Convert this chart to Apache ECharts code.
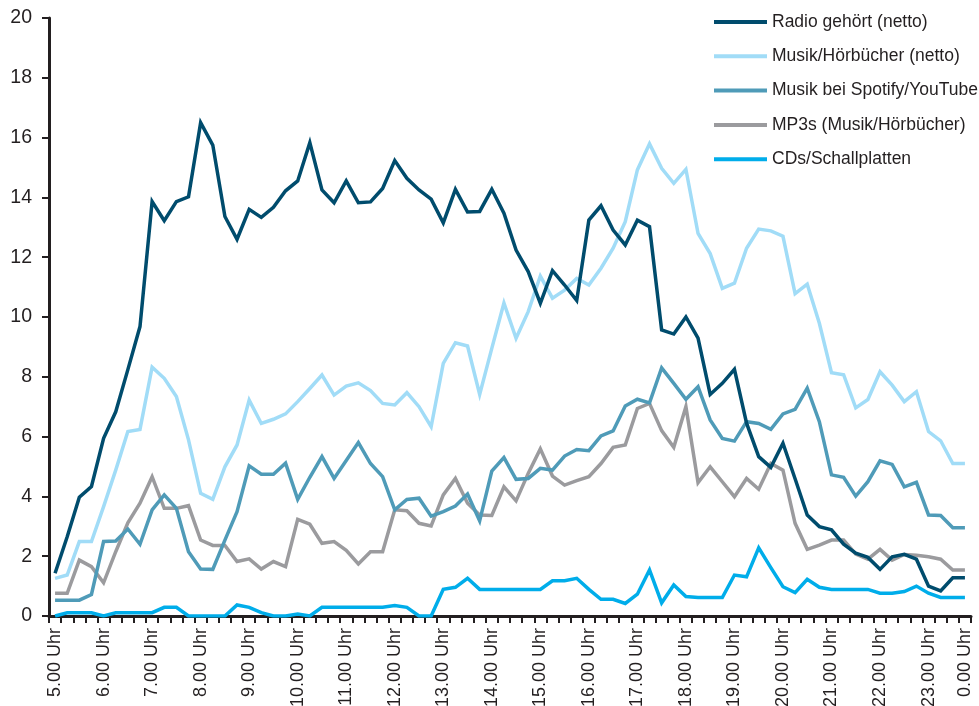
<!DOCTYPE html>
<html>
<head>
<meta charset="utf-8">
<script src="https://cdn.jsdelivr.net/npm/echarts@6/dist/echarts.min.js"></script>
<style>
  html, body { margin: 0; padding: 0; background: #ffffff; }
  #chart { width: 979px; height: 706px; }
</style>
</head>
<body>
<div id="chart"></div>
<script>
// Viertelstunden von 5.00 Uhr bis Mitternacht
const timeSlots = [
  '5.00 Uhr','5.15 Uhr','5.30 Uhr','5.45 Uhr','6.00 Uhr','6.15 Uhr','6.30 Uhr','6.45 Uhr',
  '7.00 Uhr','7.15 Uhr','7.30 Uhr','7.45 Uhr','8.00 Uhr','8.15 Uhr','8.30 Uhr','8.45 Uhr',
  '9.00 Uhr','9.15 Uhr','9.30 Uhr','9.45 Uhr','10.00 Uhr','10.15 Uhr','10.30 Uhr','10.45 Uhr',
  '11.00 Uhr','11.15 Uhr','11.30 Uhr','11.45 Uhr','12.00 Uhr','12.15 Uhr','12.30 Uhr','12.45 Uhr',
  '13.00 Uhr','13.15 Uhr','13.30 Uhr','13.45 Uhr','14.00 Uhr','14.15 Uhr','14.30 Uhr','14.45 Uhr',
  '15.00 Uhr','15.15 Uhr','15.30 Uhr','15.45 Uhr','16.00 Uhr','16.15 Uhr','16.30 Uhr','16.45 Uhr',
  '17.00 Uhr','17.15 Uhr','17.30 Uhr','17.45 Uhr','18.00 Uhr','18.15 Uhr','18.30 Uhr','18.45 Uhr',
  '19.00 Uhr','19.15 Uhr','19.30 Uhr','19.45 Uhr','20.00 Uhr','20.15 Uhr','20.30 Uhr','20.45 Uhr',
  '21.00 Uhr','21.15 Uhr','21.30 Uhr','21.45 Uhr','22.00 Uhr','22.15 Uhr','22.30 Uhr','22.45 Uhr',
  '23.00 Uhr','23.15 Uhr','23.30 Uhr','0.00 Uhr'
];

// Beschriftete Zeitpunkte an der x-Achse
const shownTimes = [
  '5.00 Uhr','6.00 Uhr','7.00 Uhr','8.00 Uhr','9.00 Uhr','10.00 Uhr','11.00 Uhr','12.00 Uhr',
  '13.00 Uhr','14.00 Uhr','15.00 Uhr','16.00 Uhr','17.00 Uhr','18.00 Uhr','19.00 Uhr','20.00 Uhr',
  '21.00 Uhr','22.00 Uhr','23.00 Uhr','0.00 Uhr'
];

const seriesNames = [
  'Radio gehört (netto)',
  'Musik/Hörbücher (netto)',
  'Musik bei Spotify/YouTube',
  'MP3s (Musik/Hörbücher)',
  'CDs/Schallplatten'
];

// Reichweite in Prozent je Viertelstunde
const radioNetto = [
  1.43, 2.65, 3.97, 4.33, 5.94, 6.83, 8.24, 9.68, 13.86, 13.22, 13.86, 14.02, 16.5, 15.75, 13.36, 12.6,
  13.6, 13.33, 13.67, 14.22, 14.55, 15.83, 14.25, 13.82, 14.55, 13.82, 13.85, 14.3, 15.23, 14.64, 14.25, 13.94,
  13.15, 14.27, 13.51, 13.53, 14.27, 13.47, 12.24, 11.52, 10.46, 11.55, 11.07, 10.55, 13.24, 13.72, 12.91, 12.41,
  13.24, 13.02, 9.57, 9.43, 10.0, 9.29, 7.41, 7.78, 8.25, 6.45, 5.33, 4.97, 5.78, 4.59, 3.38, 2.99,
  2.88, 2.4, 2.1, 1.96, 1.56, 1.98, 2.06, 1.9, 1.0, 0.84, 1.28, 1.28
];

const musikNetto = [
  1.26, 1.37, 2.49, 2.49, 3.66, 4.88, 6.17, 6.24, 8.32, 7.95, 7.34, 5.89, 4.1, 3.9, 4.99, 5.72,
  7.22, 6.44, 6.58, 6.76, 7.17, 7.61, 8.06, 7.39, 7.69, 7.8, 7.54, 7.11, 7.06, 7.47, 7.0, 6.33,
  8.45, 9.14, 9.03, 7.41, 8.95, 10.47, 9.29, 10.18, 11.37, 10.63, 10.9, 11.29, 11.07, 11.63, 12.3, 13.19,
  14.92, 15.79, 14.97, 14.47, 14.94, 12.8, 12.12, 10.96, 11.13, 12.3, 12.94, 12.88, 12.7, 10.78, 11.1, 9.79,
  8.14, 8.07, 6.96, 7.24, 8.17, 7.72, 7.17, 7.5, 6.17, 5.86, 5.1, 5.1
];

const spotifyYoutube = [
  0.53, 0.53, 0.53, 0.72, 2.49, 2.51, 2.91, 2.4, 3.55, 4.05, 3.6, 2.15, 1.57, 1.56, 2.54, 3.49,
  5.02, 4.74, 4.74, 5.11, 3.9, 4.64, 5.33, 4.6, 5.2, 5.8, 5.1, 4.66, 3.55, 3.9, 3.94, 3.34,
  3.49, 3.68, 4.08, 3.18, 4.85, 5.3, 4.57, 4.6, 4.94, 4.88, 5.35, 5.57, 5.53, 6.02, 6.19, 7.02,
  7.25, 7.13, 8.3, 7.78, 7.25, 7.67, 6.56, 5.94, 5.85, 6.5, 6.44, 6.24, 6.76, 6.91, 7.62, 6.5,
  4.72, 4.64, 4.01, 4.49, 5.19, 5.07, 4.32, 4.47, 3.38, 3.36, 2.95, 2.95
];

const mp3s = [
  0.76, 0.76, 1.87, 1.65, 1.11, 2.15, 3.12, 3.77, 4.66, 3.6, 3.6, 3.69, 2.54, 2.36, 2.36, 1.82,
  1.91, 1.57, 1.82, 1.65, 3.23, 3.07, 2.43, 2.49, 2.2, 1.74, 2.15, 2.15, 3.55, 3.52, 3.1, 3.01,
  4.05, 4.6, 3.77, 3.38, 3.36, 4.32, 3.85, 4.77, 5.59, 4.68, 4.38, 4.53, 4.66, 5.1, 5.64, 5.72,
  6.94, 7.11, 6.2, 5.64, 7.0, 4.46, 4.99, 4.49, 3.99, 4.6, 4.24, 5.1, 4.88, 3.1, 2.23, 2.37,
  2.54, 2.54, 2.07, 1.9, 2.23, 1.87, 2.06, 2.03, 1.98, 1.9, 1.54, 1.54
];

const cdsPlatten = [
  0, 0.11, 0.11, 0.11, 0, 0.11, 0.11, 0.11, 0.11, 0.29, 0.29, 0, 0, 0, 0, 0.37,
  0.29, 0.11, 0, 0, 0.07, 0, 0.29, 0.29, 0.29, 0.29, 0.29, 0.29, 0.35, 0.29, 0, 0,
  0.89, 0.96, 1.26, 0.89, 0.89, 0.89, 0.89, 0.89, 0.89, 1.18, 1.18, 1.26, 0.89, 0.56, 0.56, 0.42,
  0.73, 1.54, 0.44, 1.04, 0.65, 0.62, 0.62, 0.62, 1.37, 1.31, 2.28, 1.62, 0.98, 0.78, 1.23, 0.96,
  0.89, 0.89, 0.89, 0.89, 0.76, 0.76, 0.82, 1.0, 0.76, 0.62, 0.62, 0.62
];

const seriesValues = [radioNetto, musikNetto, spotifyYoutube, mp3s, cdsPlatten];
const seriesColors = ['#004c6d', '#a1dcf7', '#4f9bb8', '#9b9b9e', '#00adea'];

const FONT = "'Liberation Sans', Arial, Helvetica, sans-serif";
const INK = '#231f20';

const chart = echarts.init(document.getElementById('chart'), null, { renderer: 'canvas' });

chart.setOption({
  animation: false,
  backgroundColor: '#ffffff',
  grid: { left: 49, right: 8, top: 18, bottom: 90, containLabel: false, outerBoundsMode: 'none' },
  legend: {
    orient: 'vertical',
    left: 709,
    top: 8,
    itemWidth: 53,
    itemHeight: 4,
    itemGap: 16.3,
    icon: 'rect',
    textStyle: { fontFamily: FONT, fontSize: 17.5, color: INK, lineHeight: 18 },
    data: seriesNames
  },
  xAxis: {
    type: 'category',
    data: timeSlots,
    boundaryGap: true,
    axisLine: { lineStyle: { color: INK, width: 3 } },
    axisTick: { show: true, interval: 0, length: 7, lineStyle: { color: INK, width: 2 } },
    axisLabel: {
      interval: (idx, val) => shownTimes.includes(val),
      rotate: 90,
      margin: 12,
      fontFamily: FONT,
      fontSize: 18,
      color: INK
    },
    splitLine: { show: false }
  },
  yAxis: {
    type: 'value',
    min: 0,
    max: 20,
    interval: 2,
    axisLine: { show: true, lineStyle: { color: INK, width: 3 } },
    axisTick: { show: true, length: 7, lineStyle: { color: INK, width: 2 } },
    axisLabel: { margin: 17, fontFamily: FONT, fontSize: 19.5, color: INK },
    splitLine: { show: false }
  },
  series: seriesNames.map((name, k) => ({
    name,
    type: 'line',
    data: seriesValues[k],
    showSymbol: false,
    symbol: 'none',
    color: seriesColors[k],
    lineStyle: { width: 3.5, color: seriesColors[k], join: 'miter' },
    z: 10 - k
  }))
});
</script>
</body>
</html>
